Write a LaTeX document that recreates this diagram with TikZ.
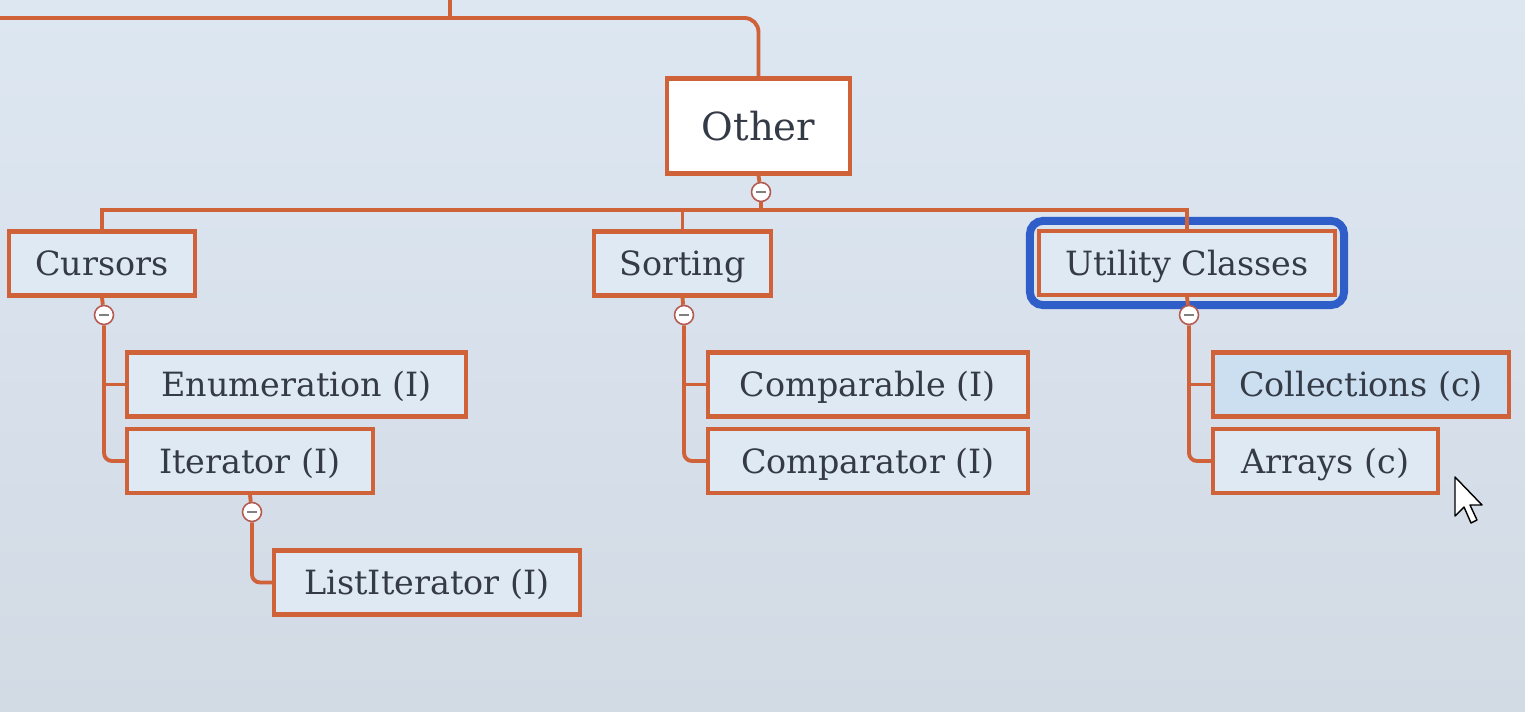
\documentclass[tikz,border=0pt]{standalone}
\usepackage{fontspec}
\setmainfont{DejaVu Serif}
\definecolor{linec}{RGB}{208,98,58}
\definecolor{boxfill}{RGB}{222,233,244}
\definecolor{collfill}{RGB}{203,223,241}
\definecolor{txt}{RGB}{52,58,70}
\definecolor{selblue}{RGB}{48,94,200}
\definecolor{bgtop}{RGB}{221,231,242}
\definecolor{bgbot}{RGB}{210,218,228}
\definecolor{circc}{RGB}{180,92,82}
\begin{document}
\begin{tikzpicture}[x=0.02cm,y=-0.02cm,
  box/.style={draw=linec, line width=2.4pt, fill=boxfill, text=txt,
    font=\fontsize{19}{23}\selectfont, inner sep=0pt, minimum height=1.28cm,
    text height=13.9pt, text depth=0pt},
  conn/.style={draw=linec, line width=2.2pt},
  collapse/.style={circle, draw=circc, line width=0.9pt, fill=white, minimum size=0.38cm, inner sep=0pt,
    path picture={\draw[line width=1.1pt,gray] ([xshift=-2.8pt]path picture bounding box.center) -- ([xshift=2.8pt]path picture bounding box.center);}}
]
\shade[top color=bgtop, bottom color=bgbot] (0,0) rectangle (1525,712);
\useasboundingbox (0,0) rectangle (1525,712);

% nodes
\node[box, fill=white, minimum width=3.66cm, minimum height=1.9cm, font=\fontsize{22}{26}\selectfont, text height=16pt] (other) at (758.5,126) {Other};
\node[box, minimum width=3.72cm] (cursors) at (102,263.5) {Cursors};
\node[box, minimum width=3.54cm] (sorting) at (682.5,263.5) {Sorting};
\node[box, minimum width=5.92cm] (util) at (1187,263) {Utility Classes};
\node[box, minimum width=6.78cm] (enum) at (296.5,384.5) {Enumeration (I)};
\node[box, minimum width=4.92cm] (iter) at (250,461) {Iterator (I)};
\node[box, minimum width=6.12cm] (listiter) at (427,582.5) {ListIterator (I)};
\node[box, minimum width=6.40cm] (comparable) at (868,384.5) {Comparable (I)};
\node[box, minimum width=6.40cm] (comparator) at (868,461) {Comparator (I)};
\node[box, minimum width=5.92cm, fill=collfill] (coll) at (1361,384.5) {Collections (c)};
\node[box, minimum width=4.50cm] (arrays) at (1325.5,461) {Arrays (c)};

% selection outline
\draw[selblue, line width=4.5pt, rounded corners=0.26cm] ([shift={(-7,-8)}]util.north west) rectangle ([shift={(7,8)}]util.south east);

% collapse markers
\node[collapse] (oc) at (761,192) {};
\node[collapse] (cc) at (104,315) {};
\node[collapse] (ic) at (252,512) {};
\node[collapse] (sc) at (684,315) {};
\node[collapse] (uc) at (1189,315) {};

% top connectors
\coordinate (tl) at (0,18);
\coordinate (tp) at (450,0);
\coordinate (bus) at (761,210);
\draw[conn, rounded corners=0.28cm] (tl) -| (other.north);
\draw[conn] (tp) -- (tp |- tl);

% Other to children
\draw[conn] (other.south) -- (oc);
\draw[conn] (oc) -- (bus);
\draw[conn] (cursors.north) |- (bus) -| (util.north);
\draw[conn] (sorting.north) -- (sorting.north |- bus);

% Cursors
\draw[conn] (cursors.south) -- (cc);
\draw[conn, rounded corners=0.16cm] (cc) |- (iter.west);
\draw[conn] (cc |- enum.west) -- (enum.west);
% Iterator
\draw[conn] (iter.south) -- (ic);
\draw[conn, rounded corners=0.16cm] (ic) |- (listiter.west);
% Sorting
\draw[conn] (sorting.south) -- (sc);
\draw[conn, rounded corners=0.16cm] (sc) |- (comparator.west);
\draw[conn] (sc |- comparable.west) -- (comparable.west);
% Utility
\draw[conn] (util.south) -- (uc);
\draw[conn, rounded corners=0.16cm] (uc) |- (arrays.west);
\draw[conn] (uc |- coll.west) -- (coll.west);

% mouse pointer
\draw[fill=white, line width=0.8pt, line join=round] (1455,477) -- (1455,516) -- (1464,507) -- (1471,523) -- (1477,520) -- (1470,505) -- (1482,505) -- cycle;
\end{tikzpicture}
\end{document}
